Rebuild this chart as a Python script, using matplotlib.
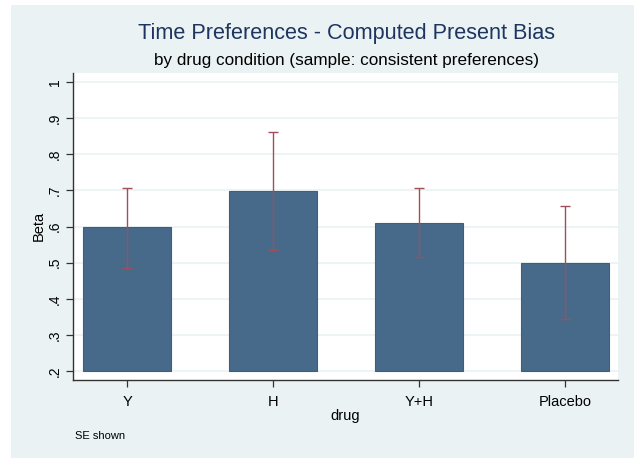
import numpy as np
import matplotlib.pyplot as plt
from matplotlib.patches import Rectangle

# datos
drugs = ['Y', 'H', 'Y+H', 'Placebo']
beta = [0.598, 0.699, 0.611, 0.500]
err_hi = [0.707, 0.861, 0.706, 0.656]
err_lo = [0.485, 0.534, 0.515, 0.344]
yticks = [0.2, 0.3, 0.4, 0.5, 0.6, 0.7, 0.8, 0.9, 1.0]
ytick_labels = ['.2', '.3', '.4', '.5', '.6', '.7', '.8', '.9', '1']

plt.rcParams['font.family'] = ['Liberation Sans', 'DejaVu Sans']

bg = '#EAF2F3'
fig = plt.figure(figsize=(6.34, 4.58), dpi=100, facecolor='white')
fig.patches.append(Rectangle((11/634, 0), 1, 453/458, transform=fig.transFigure,
                             facecolor=bg, edgecolor='none', zorder=-10))

ax = fig.add_axes([72.7/634, (458-380)/458, (618-72.7)/634, (380-72.7)/458])
ax.set_facecolor('white')

x = np.arange(len(drugs))
base = 0.2
ax.bar(x, np.array(beta) - base, bottom=base, width=0.6,
       color='#476A8A', edgecolor='#3D5F7F', linewidth=0.8, zorder=3)

mid = (np.array(err_hi) + np.array(err_lo)) / 2
half = (np.array(err_hi) - np.array(err_lo)) / 2
ax.errorbar(x, mid, yerr=half, fmt='none', ecolor='#A04E5A', elinewidth=1.0,
            capsize=3.5, capthick=1.0, zorder=4)

ax.set_xlim(-0.372, 3.363)
ax.set_ylim(0.175, 1.026)
ax.set_yticks(yticks)
ax.set_yticklabels(ytick_labels, rotation=90, va='center', fontsize=10)
ax.set_xticks(x)
ax.set_xticklabels(drugs, fontsize=10.5)
ax.yaxis.grid(True, color=bg, linewidth=1.2, zorder=0)
ax.set_axisbelow(True)

for s in ['top', 'right']:
    ax.spines[s].set_visible(False)
for s in ['left', 'bottom']:
    ax.spines[s].set_color('#333333')
    ax.spines[s].set_linewidth(1.0)
ax.tick_params(axis='y', length=5, width=0.9, color='#333333', pad=3)
ax.tick_params(axis='x', length=5, width=0.9, color='#333333', pad=6)

ax.set_ylabel('Beta', fontsize=10.5, labelpad=1)
ax.set_xlabel('drug', fontsize=10.5, labelpad=0)

fig.text(346/634, 1 - 34/458, 'Time Preferences - Computed Present Bias',
         ha='center', va='center', fontsize=15.6, color='#1E3560')
fig.text(346/634, 1 - 60/458, 'by drug condition (sample: consistent preferences)',
         ha='center', va='center', fontsize=12.3, color='black')
fig.text(75/634, 1 - 436/458, 'SE shown', ha='left', va='center', fontsize=8)

fig.savefig('out.png', dpi=100, facecolor=fig.get_facecolor())
